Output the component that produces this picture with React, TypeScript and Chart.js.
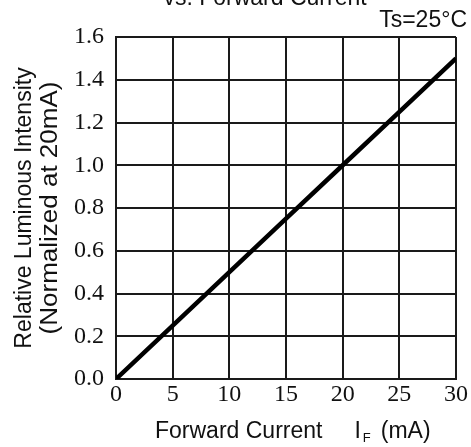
import React, { useEffect, useRef } from "react";
import { Chart, registerables } from "chart.js";

Chart.register(...registerables);

const currentMA = [0, 5, 10, 15, 20, 25, 30];
const relIntensity = [0, 0.25, 0.5, 0.75, 1.0, 1.25, 1.5];
const yTicks = [0, 0.2, 0.4, 0.6, 0.8, 1.0, 1.2, 1.4, 1.6];
const xTicks = [0, 5, 10, 15, 20, 25, 30];
const chartTitle = "vs. Forward Current";
const condition = "Ts=25°C";
const yTitle = ["Relative Luminous Intensity", "(Normalized at 20mA)"];

const SANS = "'Liberation Sans', Arial, sans-serif";
const SERIF = "'Liberation Serif', 'Times New Roman', serif";
const INK = "#111";

const textPlugin = {
  id: "texts",
  afterDraw(chart: any) {
    const ctx = chart.ctx;
    const area = chart.chartArea;
    ctx.save();
    ctx.fillStyle = INK;
    ctx.font = `23px ${SANS}`;
    ctx.textAlign = "center";
    ctx.textBaseline = "alphabetic";
    ctx.fillText(chartTitle, 265, 5);
    ctx.textAlign = "right";
    ctx.fillText(condition, 467, 27);
    ctx.textAlign = "left";
    const y = 438;
    let x = 155;
    const p1 = "Forward Current";
    ctx.fillText(p1, x, y);
    x += ctx.measureText(p1).width + 32;
    ctx.fillText("I", x, y);
    x += ctx.measureText("I").width + 2;
    ctx.font = `13px ${SANS}`;
    ctx.fillText("F", x, y + 4);
    x += ctx.measureText("F").width + 10;
    ctx.font = `23px ${SANS}`;
    ctx.fillText("(mA)", x, y);
    const cy = (area.top + area.bottom) / 2;
    const baselines = [31, 57];
    const stretch = [1, 1.13];
    ctx.textAlign = "center";
    yTitle.forEach((t, i) => {
      ctx.save();
      ctx.translate(baselines[i], cy);
      ctx.rotate(-Math.PI / 2);
      ctx.scale(stretch[i], 1);
      ctx.fillText(t, 0, 0);
      ctx.restore();
    });
    ctx.restore();
  },
};

export default function App() {
  const ref = useRef<HTMLCanvasElement>(null);
  useEffect(() => {
    if (!ref.current) return;
    const chart = new Chart(ref.current, {
      type: "scatter",
      data: {
        datasets: [
          {
            data: currentMA.map((c, i) => ({ x: c, y: relIntensity[i] })),
            showLine: true,
            borderColor: "#000",
            borderWidth: 4.5,
            pointRadius: 0,
            tension: 0,
          },
        ],
      },
      options: {
        animation: false,
        responsive: false,
        maintainAspectRatio: false,
        layout: { padding: { left: 0, top: 37, right: 15, bottom: 0 } },
        plugins: { legend: { display: false }, tooltip: { enabled: false }, title: { display: false } },
        scales: {
          x: {
            type: "linear",
            min: 0,
            max: 30,
            afterBuildTicks: (s: any) => {
              s.ticks = xTicks.map((v) => ({ value: v }));
            },
            afterFit: (s: any) => {
              s.height = 68;
            },
            grid: { color: "#1a1a1a", lineWidth: 2, drawTicks: false },
            border: { color: "#1a1a1a", width: 2 },
            ticks: {
              padding: 1,
              color: INK,
              font: { family: SERIF, size: 24 },
              maxRotation: 0,
              callback: (v: any) => String(v),
            },
          },
          y: {
            type: "linear",
            min: 0,
            max: 1.6,
            afterBuildTicks: (s: any) => {
              s.ticks = yTicks.map((v) => ({ value: v }));
            },
            afterFit: (s: any) => {
              s.width = 116;
            },
            grid: { color: "#1a1a1a", lineWidth: 2, drawTicks: false },
            border: { color: "#1a1a1a", width: 2 },
            ticks: {
              padding: 12,
              color: INK,
              font: { family: SERIF, size: 24 },
              callback: (v: any) => Number(v).toFixed(1),
            },
          },
        },
      },
      plugins: [textPlugin],
    });
    return () => chart.destroy();
  }, []);
  return (
    <div style={{ position: "fixed", left: 0, top: 0, width: 471, height: 447, background: "#fff" }}>
      <canvas ref={ref} width={471} height={447} style={{ width: 471, height: 447 }} />
    </div>
  );
}
